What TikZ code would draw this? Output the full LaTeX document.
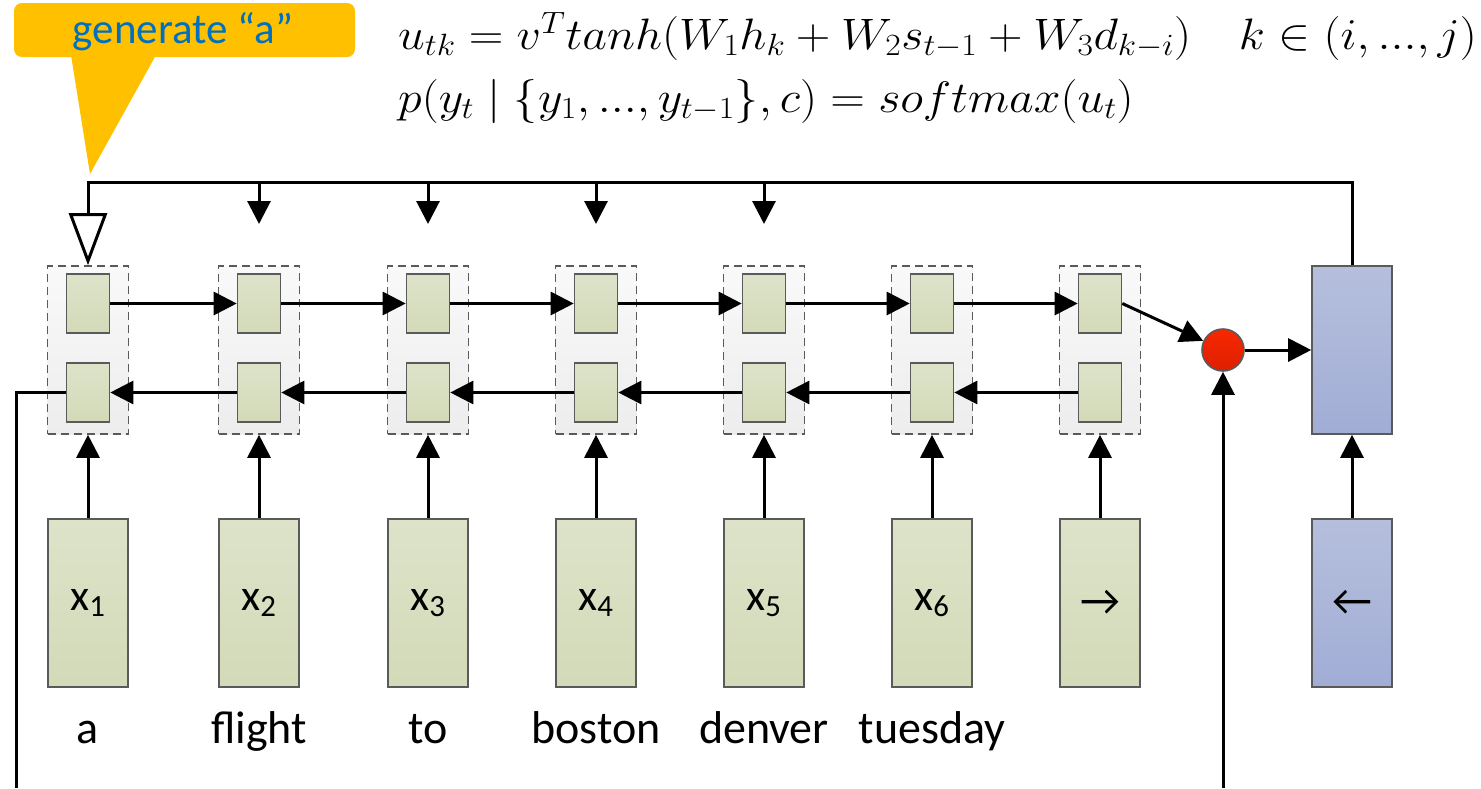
\RequirePackage{fix-cm}
\documentclass[tikz,border=0pt]{standalone}
\usepackage{fontspec}
\setmainfont{Carlito}
\usetikzlibrary{arrows.meta}
\definecolor{verdeA}{HTML}{DDE3C9}
\definecolor{verdeB}{HTML}{D3DAB8}
\definecolor{grisA}{HTML}{F9F9F9}
\definecolor{grisB}{HTML}{EDEDED}
\definecolor{azulA}{HTML}{B5BFDC}
\definecolor{azulB}{HTML}{A2ADD6}
\definecolor{rojoA}{HTML}{F82800}
\definecolor{rojoB}{HTML}{DD1F00}
\definecolor{borde}{HTML}{5A5A5A}
\definecolor{amarillo}{HTML}{FFC000}
\definecolor{azultexto}{HTML}{0070C0}
\begin{document}
\begin{tikzpicture}[x=1pt, y=-1pt,
  >={Triangle[length=23pt,width=23pt]},
  flecha/.style={->, line width=3pt},
  bloque/.style={draw=borde, line width=1.6pt, dash pattern=on 8pt off 5pt,
    top color=grisA, bottom color=grisB,
    minimum width=81pt, minimum height=168pt, inner sep=0pt},
  celda/.style={draw=borde, line width=1.6pt, top color=verdeA, bottom color=verdeB,
    minimum width=43pt, minimum height=59pt, inner sep=0pt},
  entrada/.style={celda, minimum width=80pt, minimum height=168pt,
    font=\fontsize{44}{50}\selectfont},
  palabra/.style={anchor=base, inner sep=0pt, font=\fontsize{46}{50}\selectfont},
  ecuacion/.style={anchor=base west, inner sep=0pt, font=\fontsize{44}{50}\selectfont}]
  \useasboundingbox (0,0) rectangle (1481,788);

  % Nota "generate"
  \fill[amarillo, rounded corners=8pt] (14,3) rectangle (355,57);
  \fill[amarillo] (71,55) -- (156,55) -- (90,174) -- cycle;
  \node[text=azultexto, anchor=base, inner sep=0pt,
        font=\fontsize{43}{48}\selectfont] (nota) at (183,43) {generate “a”};

  % Ecuaciones
  \node[ecuacion] (ecuA) at (398,49)
    {\scalebox{1.09}[1]{$u_{tk} = v^T tanh(W_1h_k + W_2s_{t-1} + W_3d_{k-i}) \quad k \in (i, ..., j)$}};
  \node[ecuacion] (ecuB) at (398,112)
    {\scalebox{1.09}[1]{$p(y_t \mid \{y_1, ..., y_{t-1}\}, c) = softmax(u_t)$}};

  % Codificador
  \foreach \x/\lab [count=\i] in {88/{x\textsubscript{1}}, 259/{x\textsubscript{2}},
      428/{x\textsubscript{3}}, 596/{x\textsubscript{4}}, 764/{x\textsubscript{5}},
      932/{x\textsubscript{6}}, 1100/{→}} {
    \node[bloque] (c\i) at (\x,350) {};
    \node[celda] (f\i) at (\x,303.5) {};
    \node[celda] (b\i) at (\x,392.5) {};
    \node[entrada] (x\i) at (\x,603) {\lab};
    \draw[flecha] (x\i) -- (c\i);
  }
  \foreach \i [evaluate=\i as \j using int(\i+1)] in {1,...,6} {
    \draw[flecha] (f\i) -- (f\j);
    \draw[flecha] (b\j) -- (b\i);
  }

  % Palabras
  \foreach \w [count=\i] in {a, flight, to, boston, denver, tuesday}
    \node[palabra] (w\i) at (x\i.south |- 0,743) {\w};

  % Atencion y decodificador
  \node[circle, draw=borde, line width=1.6pt, top color=rojoA, bottom color=rojoB,
        minimum size=42pt, inner sep=0pt] (mezcla) at (1223,350) {};
  \node[celda, top color=azulA, bottom color=azulB,
        minimum width=80pt, minimum height=168pt] (dec) at (1352,350) {};
  \node[entrada, top color=azulA, bottom color=azulB] (din) at (1352,603) {←};

  \coordinate (arriba) at (88,182);
  \coordinate (punta) at (0,224);
  \coordinate (izq) at (16,788);
  \coordinate (abajo) at (1223,788);

  \draw[flecha] (f7.east) -- (mezcla);
  \draw[flecha] (mezcla) -- (dec);
  \draw[flecha] (din) -- (dec);
  \draw[flecha] (abajo) -- (mezcla);
  \draw[line width=3pt] (b1.west) -| (izq);

  % Realimentacion
  \draw[line width=3pt, -{Triangle[open,length=52pt,width=38pt]}]
    (dec.north) |- (arriba) -- (c1.north);
  \foreach \i in {2,...,5}
    \draw[flecha] (c\i.north |- arriba) -- (c\i.north |- punta);
\end{tikzpicture}
\end{document}
